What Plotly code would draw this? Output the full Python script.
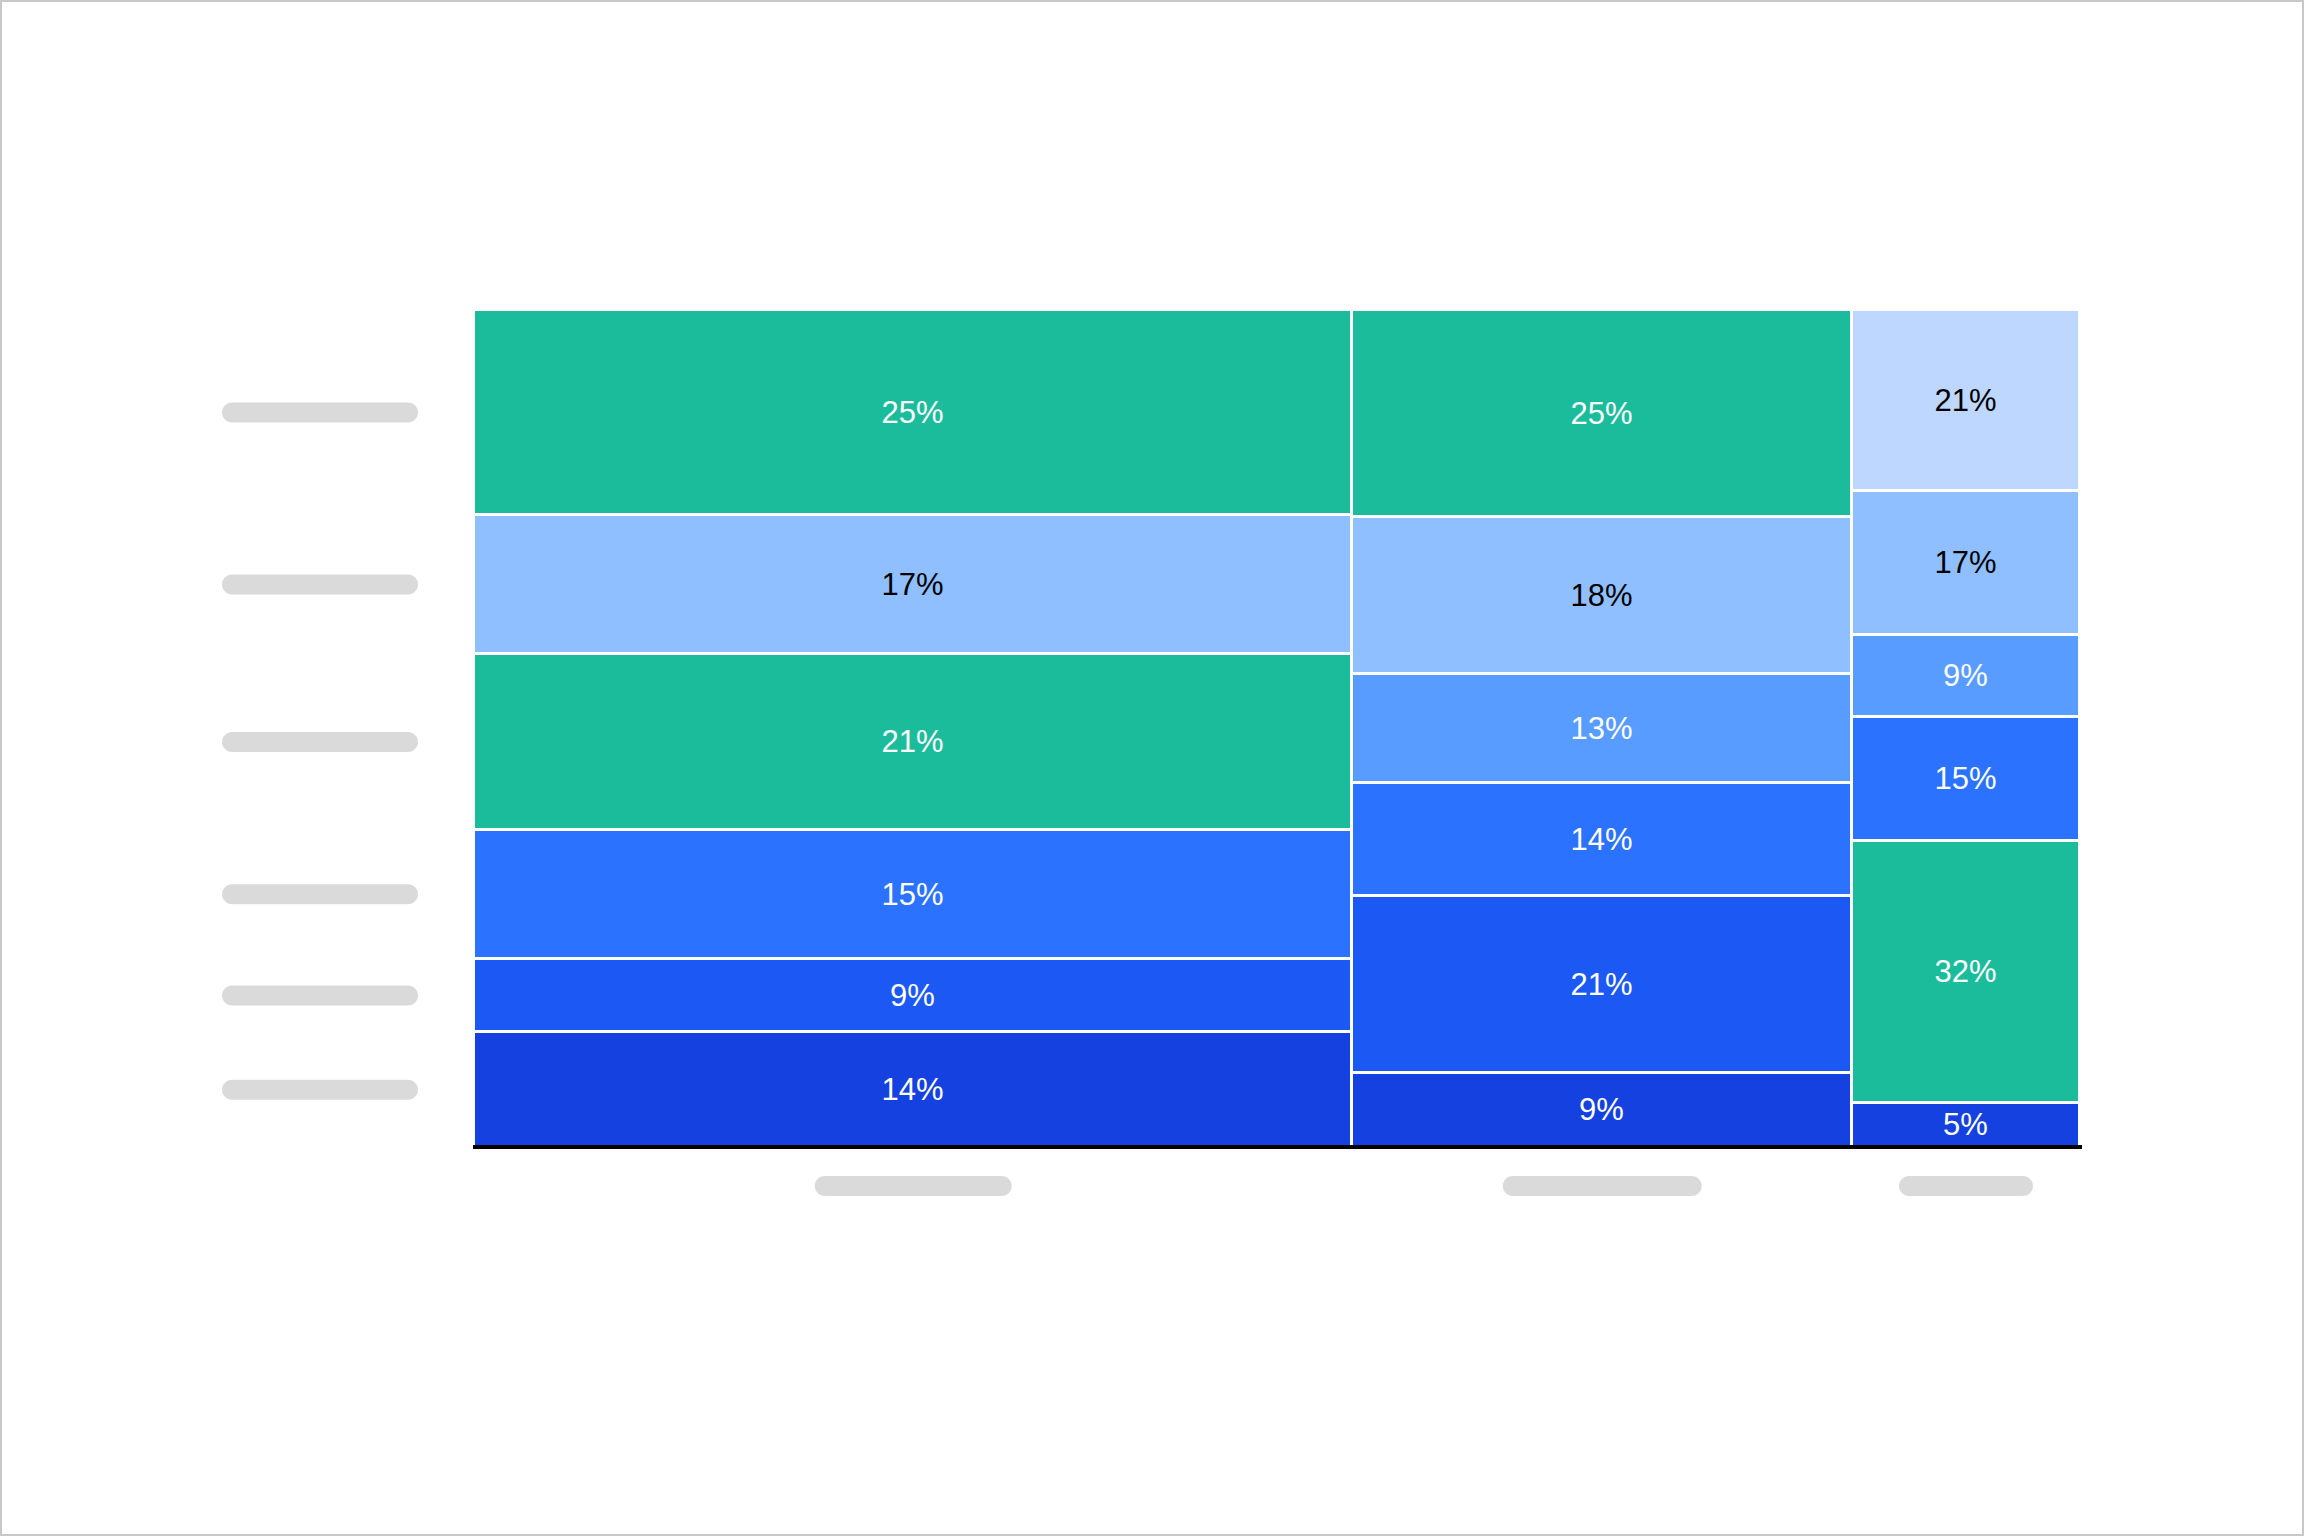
import plotly.graph_objects as go

# ---- data ----
column_shares = [54.7, 31.1, 14.2]          # width share of each column (%)
col_a_values = [13.7, 8.8, 15.4, 21.0, 16.6, 24.5]   # bottom -> top
col_b_values = [8.9, 21.1, 13.5, 13.0, 18.8, 24.7]
col_c_values = [5.3, 31.2, 14.9, 9.8, 17.2, 21.6]
col_a_labels = [14, 9, 15, 21, 17, 25]
col_b_labels = [9, 21, 14, 13, 18, 25]
col_c_labels = [5, 32, 15, 9, 17, 21]

GREEN = "#1BBC9B"
C_DARKEST = "#1441DF"
C_DARK = "#1C58F3"
C_MID = "#2A72FF"
C_MEDLIGHT = "#589CFF"
C_LIGHT = "#8FBFFF"
C_VLIGHT = "#BDD7FF"

col_a_colors = [C_DARKEST, C_DARK, C_MID, GREEN, C_LIGHT, GREEN]
col_b_colors = [C_DARKEST, C_DARK, C_MID, C_MEDLIGHT, C_LIGHT, GREEN]
col_c_colors = [C_DARKEST, GREEN, C_MID, C_MEDLIGHT, C_LIGHT, C_VLIGHT]

x_pill_widths = [197, 199, 134]   # placeholder category-label widths (px)

values = [col_a_values, col_b_values, col_c_values]
labels = [col_a_labels, col_b_labels, col_c_labels]
colors = [col_a_colors, col_b_colors, col_c_colors]

# ---- geometry ----
W, H = 2304, 1536
L, R, T, B = 474, 224, 310, 389
PW, PH = W - L - R, H - T - B

lefts = []
acc = 0.0
for s in column_shares:
    lefts.append(acc)
    acc += s
centers = [l + s / 2 for l, s in zip(lefts, column_shares)]

dark_text = {C_LIGHT, C_VLIGHT}
FONT = "Liberation Sans, Arial, Helvetica, sans-serif"

fig = go.Figure()
n_rows = len(col_a_values)
for i in range(n_rows):
    row_vals = [v[i] for v in values]
    row_cols = [c[i] for c in colors]
    row_txt = [f"{lab[i]}%" for lab in labels]
    row_tc = ["#000000" if c in dark_text else "#FFFFFF" for c in row_cols]
    fig.add_trace(go.Bar(
        x=centers, y=row_vals, width=column_shares,
        marker=dict(color=row_cols, line=dict(color="white", width=3)),
        text=row_txt, textposition="inside", insidetextanchor="middle",
        textangle=0, constraintext="none",
        textfont=dict(color=row_tc, size=31, family=FONT),
        hoverinfo="skip", showlegend=False,
    ))


def pill_path(hw, r):
    k = 0.5523 * r
    a = hw - r
    return (f"M {-a},{-r} L {a},{-r} "
            f"C {a + k},{-r} {hw},{-k} {hw},0 "
            f"C {hw},{k} {a + k},{r} {a},{r} "
            f"L {-a},{r} "
            f"C {-a - k},{r} {-hw},{k} {-hw},0 "
            f"C {-hw},{-k} {-a - k},{-r} {-a},{-r} Z")


shapes = []
PILL = "#DADADA"
# y-axis placeholder labels at centres of first-column segments
cum = 0.0
for v in col_a_values:
    yc = cum + v / 2
    cum += v
    shapes.append(dict(type="path", xref="paper", yref="y",
                       xsizemode="pixel", ysizemode="pixel",
                       xanchor=(320 - L) / PW, yanchor=yc,
                       path=pill_path(98, 10), fillcolor=PILL, line=dict(width=0), layer="above"))
# x-axis placeholder labels
x_pill_y = -(1186 - (T + PH)) / PH
for c, w in zip(centers, x_pill_widths):
    shapes.append(dict(type="path", xref="x", yref="paper",
                       xsizemode="pixel", ysizemode="pixel",
                       xanchor=c, yanchor=x_pill_y,
                       path=pill_path(w / 2, 10), fillcolor=PILL, line=dict(width=0), layer="above"))
# baseline
shapes.append(dict(type="line", xref="paper", yref="paper", x0=-1 / PW, x1=1 + 2 / PW,
                   y0=0, y1=0, line=dict(color="black", width=4), layer="above"))
# outer frame
shapes.append(dict(type="rect", xref="paper", yref="paper",
                   x0=(1 - L) / PW, x1=(W - 1 - L) / PW,
                   y0=-(B - 1) / PH, y1=1 + (T - 1) / PH,
                   line=dict(color="#C8C8C8", width=2), fillcolor="rgba(0,0,0,0)", layer="above"))

fig.update_layout(
    width=W, height=H,
    margin=dict(l=L, r=R, t=T, b=B, pad=0),
    paper_bgcolor="white", plot_bgcolor="white",
    barmode="stack", bargap=0,
    font=dict(family=FONT, size=31),
    xaxis=dict(range=[0, 100], showgrid=False, zeroline=False, showticklabels=False,
               ticks="", showline=False, fixedrange=True),
    yaxis=dict(range=[0, 100], showgrid=False, zeroline=False, showticklabels=False,
               ticks="", showline=False, fixedrange=True),
    shapes=shapes,
)

fig.write_html("out.html", config={"displayModeBar": False},
               post_script="document.body.style.margin='0';document.body.style.overflow='hidden';")
